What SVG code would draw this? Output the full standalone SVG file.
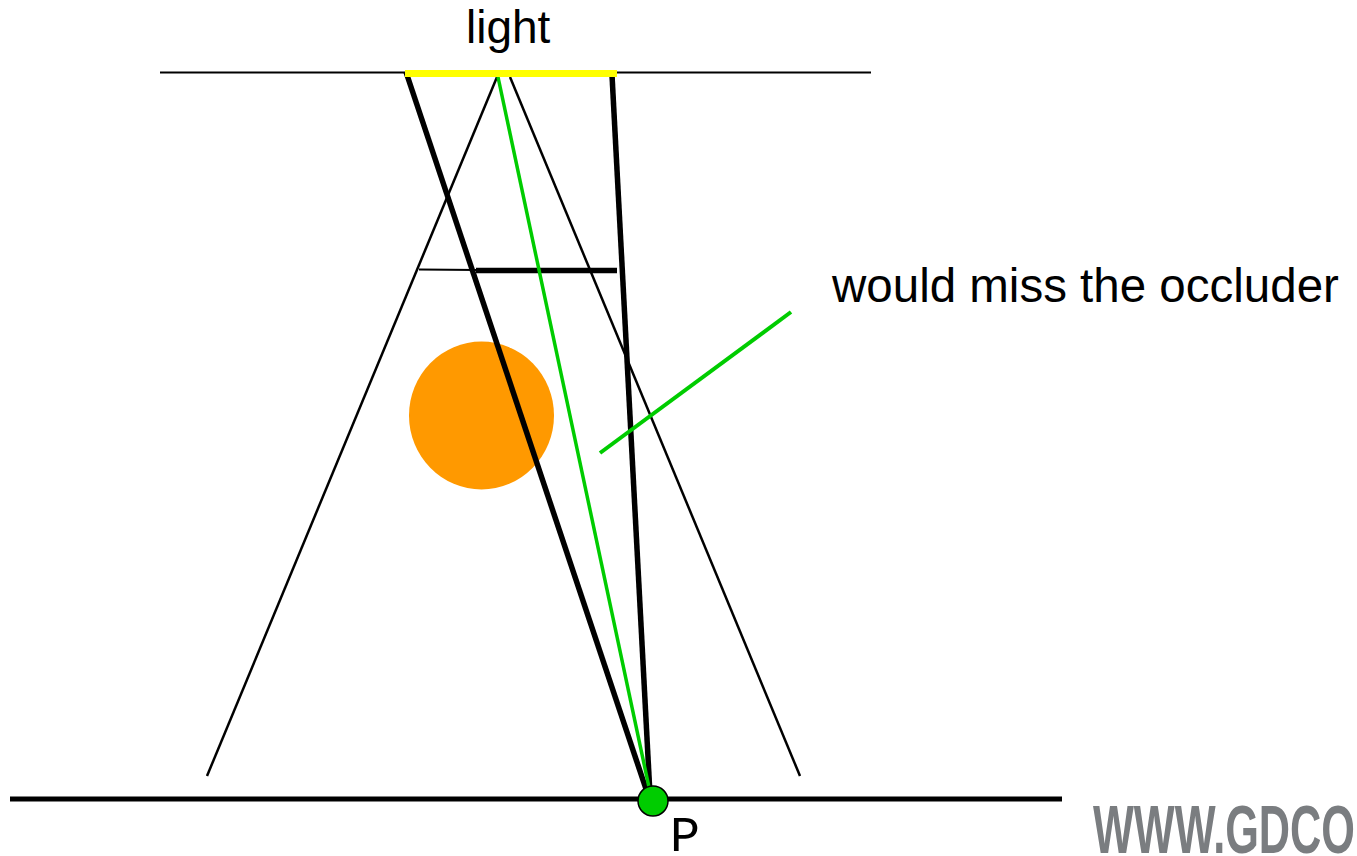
<svg xmlns="http://www.w3.org/2000/svg" width="1357" height="856" viewBox="0 0 1357 856">
<style>
.thin{stroke:#000;stroke-width:2.5;fill:none}
.thick{stroke:#000;stroke-width:5.5;fill:none}
.green{stroke:#00cc00;fill:none}
.lbl{font-family:"Liberation Sans",Arial,sans-serif;font-size:46px;fill:#000}
</style>
<rect width="1357" height="856" fill="#fff"/>
<g id="occluder">
<ellipse cx="481.5" cy="415.5" rx="72.5" ry="74" fill="#ff9900"/>
</g>
<g id="connectors">
<line x1="160" y1="72.5" x2="871" y2="72.5" stroke="#000" stroke-width="1.8"/>
<line class="thin" x1="497" y1="77" x2="207" y2="776"/>
<line class="thin" x1="510" y1="77" x2="800" y2="776"/>
<line x1="419" y1="269.5" x2="478" y2="270" stroke="#000" stroke-width="1.8"/>
<line class="thick" x1="476" y1="270.5" x2="617" y2="270.5" stroke-width="6"/>
<line class="thick" x1="406" y1="72" x2="648" y2="795"/>
<line class="thick" x1="612" y1="75" x2="650" y2="795"/>
<line class="green" x1="498" y1="77" x2="650" y2="792" stroke-width="3.5"/>
<line class="green" x1="600" y1="453" x2="791" y2="312" stroke-width="4"/>
<line x1="10" y1="799" x2="1062" y2="799" stroke="#000" stroke-width="5"/>
</g>
<g id="light">
<line x1="405" y1="73.5" x2="617" y2="73.5" stroke="#ffff00" stroke-width="7"/>
<text class="lbl" x="466" y="43">light</text>
</g>
<g id="point">
<circle cx="653" cy="801" r="15" fill="#00cc00" stroke="#000" stroke-width="1.5"/>
<text x="670" y="851" font-family="'Liberation Mono','Courier New',monospace" font-size="50" fill="#000">P</text>
</g>
<g id="note">
<text class="lbl" x="832" y="302" font-size="47.5" style="font-size:47.5px">would miss the occluder</text>
</g>
<g id="watermark">
<text x="1093" y="853" font-family="'Liberation Sans Narrow','Liberation Sans',Arial,sans-serif" font-weight="bold" font-size="68" fill="#7a7d80" textLength="262" lengthAdjust="spacingAndGlyphs">WWW.GDCO</text>
</g>
</svg>
